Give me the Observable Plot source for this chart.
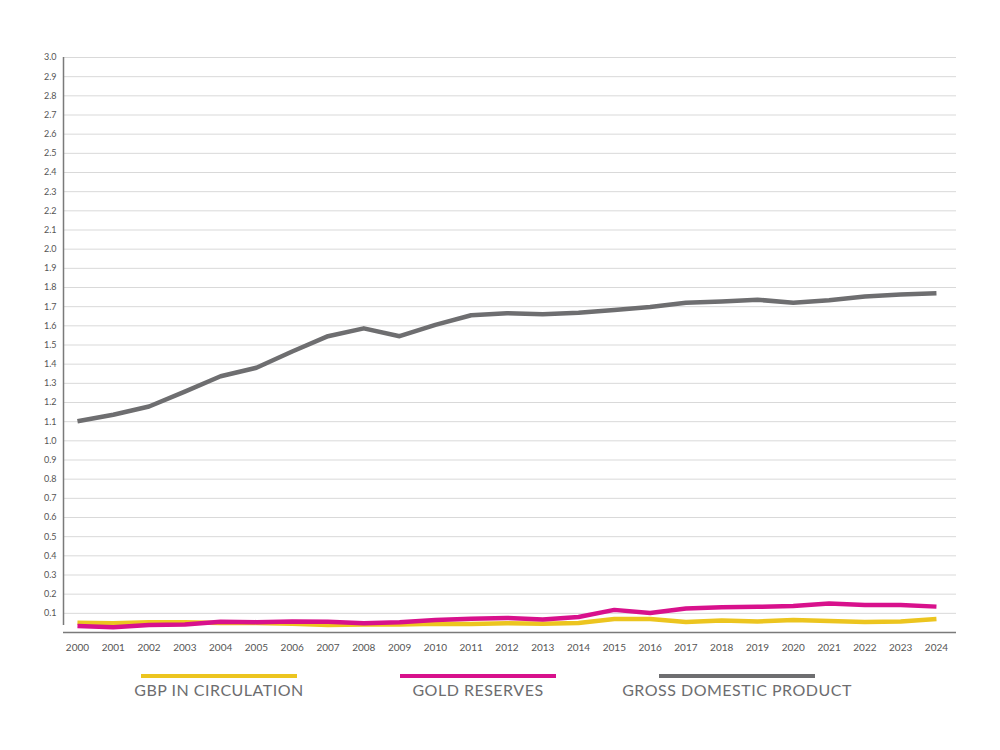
<!DOCTYPE html>
<html>
<head>
<meta charset="utf-8">
<script src="https://cdn.jsdelivr.net/npm/d3@7"></script>
<script src="https://cdn.jsdelivr.net/npm/@observablehq/plot@0.6"></script>
<style>
  html, body { margin: 0; padding: 0; background: #fff; }
  #wrap { width: 1000px; height: 750px; position: relative; font-family: Lato, "Open Sans", sans-serif; }
  #legend { position: relative; width: 1000px; height: 80px; }
  .item { position: absolute; top: 19px; width: 280px; text-align: center; }
  .swatch { width: 156px; height: 4px; margin: 0 auto; }
  .label { margin-top: 2px; font-size: 16px; color: #6d6d6f; letter-spacing: 0.5px; }
</style>
</head>
<body>
<div id="wrap"></div>
<script>
const years = [2000,2001,2002,2003,2004,2005,2006,2007,2008,2009,2010,2011,2012,2013,2014,2015,2016,2017,2018,2019,2020,2021,2022,2023,2024];
const gbp = [0.051,0.048,0.054,0.054,0.050,0.050,0.046,0.039,0.042,0.042,0.046,0.044,0.048,0.046,0.049,0.070,0.070,0.055,0.062,0.058,0.065,0.060,0.055,0.058,0.070];
const gold = [0.034,0.028,0.039,0.042,0.056,0.054,0.058,0.056,0.048,0.054,0.065,0.072,0.076,0.068,0.081,0.118,0.102,0.125,0.132,0.134,0.138,0.151,0.144,0.144,0.135];
const gdp = [1.102,1.136,1.179,1.257,1.337,1.381,1.466,1.546,1.587,1.546,1.605,1.655,1.666,1.660,1.668,1.683,1.698,1.721,1.727,1.736,1.721,1.734,1.753,1.763,1.770];
const seriesNames = ["GBP IN CIRCULATION", "GOLD RESERVES", "GROSS DOMESTIC PRODUCT"];
const seriesColors = ["#ecc51f", "#d8118c", "#6e6e70"];
const yTicks = [0.1,0.2,0.3,0.4,0.5,0.6,0.7,0.8,0.9,1.0,1.1,1.2,1.3,1.4,1.5,1.6,1.7,1.8,1.9,2.0,2.1,2.2,2.3,2.4,2.5,2.6,2.7,2.8,2.9,3.0];
const xDomain = [1999.61, 2024.56];
const yDomain = [0, 3.0];

const seriesValues = [gbp, gold, gdp];
const rows = [];
seriesNames.forEach((s, k) => years.forEach((y, i) => rows.push({series: s, year: y, value: seriesValues[k][i]})));

const chart = Plot.plot({
  width: 1000,
  height: 655,
  marginTop: 57,
  marginBottom: 23,
  marginLeft: 63,
  marginRight: 44,
  style: {fontFamily: "Lato, 'Open Sans', sans-serif", background: "#fff"},
  x: {type: "linear", domain: xDomain, label: null},
  y: {domain: yDomain, label: null},
  color: {domain: seriesNames, range: seriesColors},
  marks: [
    Plot.gridY(yTicks, {stroke: "#d9d9d9", strokeOpacity: 1, strokeWidth: 1}),
    Plot.axisY(yTicks, {tickSize: 0, tickPadding: 7, tickFormat: d3.format(".1f"), fontSize: 9, fill: "#555", label: null}),
    Plot.axisX(years, {tickSize: 0, tickPadding: 11, tickFormat: d => String(d), fontSize: 10, fill: "#555", label: null, style: {letterSpacing: "0.4px"}}),
    Plot.lineY(rows, {x: "year", y: "value", z: "series", stroke: "series", strokeWidth: 4.5, strokeLinejoin: "round", strokeLinecap: "butt"}),
    Plot.ruleY([0], {stroke: "#7a7a7a", strokeWidth: 1.5}),
    Plot.ruleX([xDomain[0]], {y1: yDomain[0], y2: yDomain[1], insetTop: -7, stroke: "#7a7a7a", strokeWidth: 1.5})
  ]
});
document.getElementById("wrap").appendChild(chart);

const legend = document.createElement("div");
legend.id = "legend";
const centers = [219, 478, 737];
seriesNames.forEach((s, k) => {
  const it = document.createElement("div");
  it.className = "item";
  it.style.left = (centers[k] - 140) + "px";
  it.innerHTML = `<div class="swatch" style="background:${seriesColors[k]}"></div><div class="label">${s}</div>`;
  legend.appendChild(it);
});
document.getElementById("wrap").appendChild(legend);
</script>
</body>
</html>
